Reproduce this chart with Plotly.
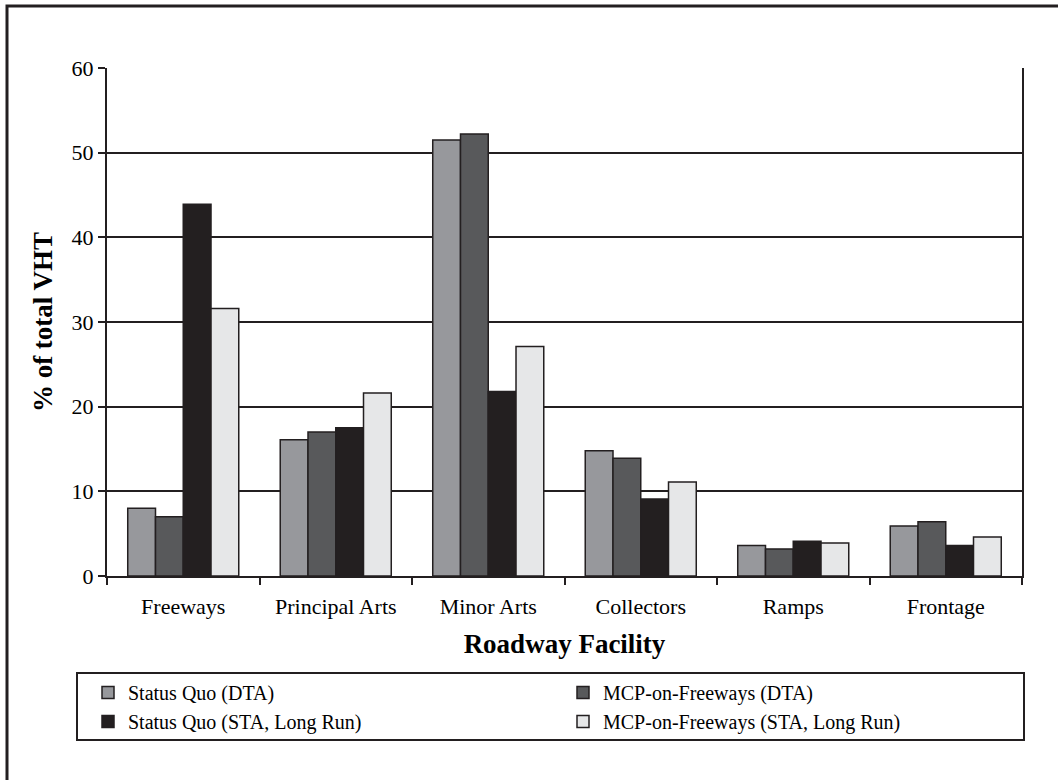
import plotly.graph_objects as go

categories = ["Freeways", "Principal Arts", "Minor Arts", "Collectors", "Ramps", "Frontage"]
sq_dta = [8.0, 16.1, 51.5, 14.8, 3.6, 5.9]
mcp_dta = [7.0, 17.0, 52.2, 13.9, 3.2, 6.4]
sq_sta = [43.9, 17.5, 21.8, 9.1, 4.1, 3.6]
mcp_sta = [31.6, 21.6, 27.1, 11.1, 3.9, 4.6]

series_names = ["Status Quo (DTA)", "MCP-on-Freeways (DTA)",
                "Status Quo (STA, Long Run)", "MCP-on-Freeways (STA, Long Run)"]
series_values = [sq_dta, mcp_dta, sq_sta, mcp_sta]
colors = ["#97989c", "#58595b", "#231f20", "#e6e7e8"]

FONT = "Liberation Serif"
INK = "#231f20"
FS = 22
LS = 20
TS = 27

fig = go.Figure()
for name, vals, col in zip(series_names, series_values, colors):
    fig.add_trace(go.Bar(
        x=categories, y=vals, name=name,
        marker=dict(color=col, line=dict(color=INK, width=1.5)),
    ))

W, H = 1058, 780
L, R, T, B = 107, 36, 68, 204
pw, ph = W - L - R, H - T - B

def px_x(x):
    return (x - L) / pw

def px_y(y):
    return (H - B - y) / ph

fig.update_layout(
    width=W, height=H, autosize=False,
    margin=dict(l=L, r=R, t=T, b=B),
    paper_bgcolor="white", plot_bgcolor="white",
    barmode="group", bargap=0.272, bargroupgap=0,
    font=dict(family=FONT, size=FS, color="black"),
    showlegend=True,
    legend=dict(
        orientation="h", x=px_x(88), y=px_y(673), xanchor="left", yanchor="top",
        entrywidth=430, entrywidthmode="pixels",
        font=dict(family=FONT, size=LS, color="black"),
        bgcolor="rgba(0,0,0,0)", borderwidth=0, traceorder="normal",
    ),
    xaxis=dict(
        showline=True, linecolor=INK, linewidth=1.5,
        ticks="outside", tickson="boundaries", ticklen=7, tickwidth=1.5, tickcolor=INK,
        ticklabelstandoff=10,
        tickfont=dict(family=FONT, size=FS, color="black"),
        title=dict(text="<b>Roadway Facility</b>", font=dict(family=FONT, size=TS, color="black"), standoff=16),
        showgrid=False,
    ),
    yaxis=dict(
        range=[0, 60], dtick=10, tick0=0,
        showline=True, linecolor=INK, linewidth=2, mirror=True,
        ticks="outside", ticklen=7, tickwidth=1.5, tickcolor=INK,
        showgrid=True, gridcolor=INK, gridwidth=1.5, zeroline=False,
        tickfont=dict(family=FONT, size=FS, color="black"),
        title=dict(text="<b>% of total VHT</b>", font=dict(family=FONT, size=TS, color="black"), standoff=11),
    ),
)

# legend frame
fig.add_shape(type="rect", xref="paper", yref="paper",
              x0=px_x(77), x1=px_x(1024), y0=px_y(740), y1=px_y(673),
              line=dict(color=INK, width=2), fillcolor="rgba(0,0,0,0)", layer="above")
# outer frame (right and bottom edges fall outside the image)
fig.add_shape(type="rect", xref="paper", yref="paper",
              x0=px_x(7), x1=px_x(1070), y0=px_y(800), y1=px_y(6),
              line=dict(color=INK, width=3), fillcolor="rgba(0,0,0,0)", layer="above")

fig.write_html("out.html", config={"displayModeBar": False},
               post_script="document.body.style.margin='0';")
